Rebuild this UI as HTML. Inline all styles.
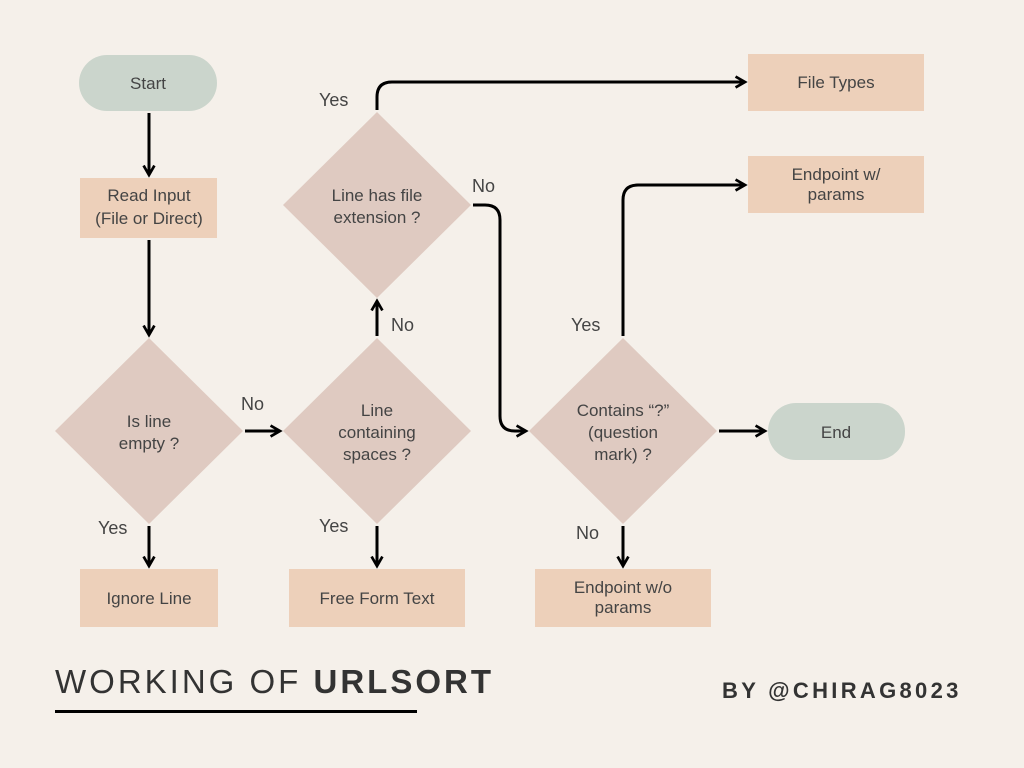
<!DOCTYPE html>
<html><head><meta charset="utf-8"><style>
body{margin:0;background:#f5f0ea;}
svg{display:block;font-family:"Liberation Sans",sans-serif;}
.t{fill:#444;font-size:17px;text-anchor:middle;}
.l{fill:#444;font-size:18px;}
.a{stroke:#000;stroke-width:3;fill:none;}
</style></head><body>
<svg width="1024" height="768" viewBox="0 0 1024 768">
<defs><marker id="m" viewBox="0 0 10 10" refX="8" refY="5" markerWidth="4.5" markerHeight="4.5" orient="auto"><path d="M1,1 L8,5 L1,9" stroke="#000" stroke-width="2" fill="none"/></marker></defs>
<rect width="1024" height="768" fill="#f5f0ea"/>
<rect x="79" y="55" width="138" height="56" rx="28" fill="#cbd5cc"/>
<rect x="768" y="403" width="137" height="57" rx="28" fill="#cbd5cc"/>
<rect x="80" y="178" width="137" height="60" fill="#edd0ba"/>
<rect x="80" y="569" width="138" height="58" fill="#edd0ba"/>
<rect x="289" y="569" width="176" height="58" fill="#edd0ba"/>
<rect x="535" y="569" width="176" height="58" fill="#edd0ba"/>
<rect x="748" y="54" width="176" height="57" fill="#edd0ba"/>
<rect x="748" y="156" width="176" height="57" fill="#edd0ba"/>
<polygon points="149,338 243,431 149,524 55,431" fill="#dfcac1"/>
<polygon points="377,338 471,431 377,524 283,431" fill="#dfcac1"/>
<polygon points="377,112 471,205 377,298 283,205" fill="#dfcac1"/>
<polygon points="623,338 717,431 623,524 529,431" fill="#dfcac1"/>
<path class="a" marker-end="url(#m)" d="M149,113 V175"/>
<path class="a" marker-end="url(#m)" d="M149,240 V335"/>
<path class="a" marker-end="url(#m)" d="M245,431 H280"/>
<path class="a" marker-end="url(#m)" d="M149,526 V566"/>
<path class="a" marker-end="url(#m)" d="M377,526 V566"/>
<path class="a" marker-end="url(#m)" d="M377,336 V301"/>
<path class="a" marker-end="url(#m)" d="M377,110 V97 Q377,82 392,82 H745"/>
<path class="a" marker-end="url(#m)" d="M473,205 H485 Q500,205 500,220 V416 Q500,431 515,431 H526"/>
<path class="a" marker-end="url(#m)" d="M623,336 V200 Q623,185 638,185 H745"/>
<path class="a" marker-end="url(#m)" d="M719,431 H765"/>
<path class="a" marker-end="url(#m)" d="M623,526 V566"/>
<text class="t" x="148" y="89">Start</text>
<text class="t" x="836" y="438">End</text>
<text class="t" x="149" y="201">Read Input</text>
<text class="t" x="149" y="224">(File or Direct)</text>
<text class="t" x="149" y="604">Ignore Line</text>
<text class="t" x="377" y="604">Free Form Text</text>
<text class="t" x="623" y="593">Endpoint w/o</text>
<text class="t" x="623" y="613">params</text>
<text class="t" x="836" y="88">File Types</text>
<text class="t" x="836" y="180">Endpoint w/</text>
<text class="t" x="836" y="200">params</text>
<text class="t" x="149" y="427">Is line</text>
<text class="t" x="149" y="449">empty ?</text>
<text class="t" x="377" y="416">Line</text>
<text class="t" x="377" y="438">containing</text>
<text class="t" x="377" y="460">spaces ?</text>
<text class="t" x="377" y="201">Line has file</text>
<text class="t" x="377" y="223">extension ?</text>
<text class="t" x="623" y="416">Contains “?”</text>
<text class="t" x="623" y="438">(question</text>
<text class="t" x="623" y="460">mark) ?</text>
<text class="l" x="319" y="106">Yes</text>
<text class="l" x="472" y="192">No</text>
<text class="l" x="391" y="331">No</text>
<text class="l" x="241" y="410">No</text>
<text class="l" x="98" y="534">Yes</text>
<text class="l" x="319" y="532">Yes</text>
<text class="l" x="571" y="331">Yes</text>
<text class="l" x="576" y="539">No</text>
<text x="55" y="693" style="font-size:33px;fill:#333;letter-spacing:3px">WORKING OF <tspan font-weight="bold">URLSORT</tspan></text>
<rect x="55" y="710" width="362" height="3" fill="#000"/>
<text x="722" y="698" style="font-size:22px;font-weight:bold;fill:#333;letter-spacing:3.3px">BY @CHIRAG8023</text>
</svg>
</body></html>
